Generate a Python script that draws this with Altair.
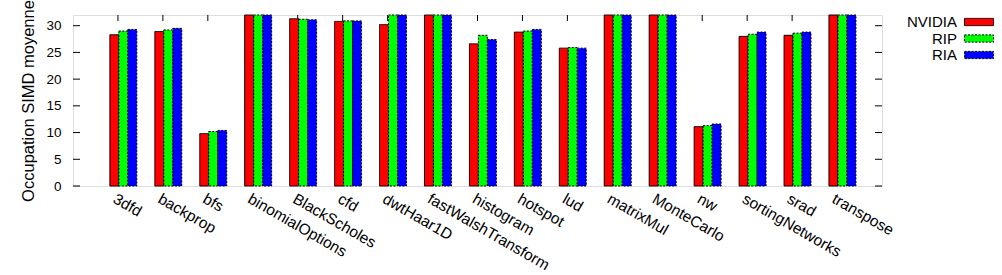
import altair as alt
import pandas as pd

benchmarks = ["3dfd", "backprop", "bfs", "binomialOptions", "BlackScholes", "cfd",
              "dwtHaar1D", "fastWalshTransform", "histogram", "hotspot", "lud",
              "matrixMul", "MonteCarlo", "nw", "sortingNetworks", "srad", "transpose"]
series_names = ["NVIDIA", "RIP", "RIA"]
nvidia = [28.3, 28.9, 9.8, 32, 31.3, 30.8, 30.2, 32, 26.6, 28.8, 25.8, 32, 32, 11.1, 28.0, 28.2, 32]
rip = [29.0, 29.2, 10.2, 32, 31.2, 30.9, 32, 32, 28.2, 29.0, 25.9, 32, 32, 11.3, 28.4, 28.6, 32]
ria = [29.3, 29.5, 10.4, 32, 31.1, 30.9, 32, 32, 27.4, 29.3, 25.8, 32, 32, 11.6, 28.8, 28.8, 32]
y_ticks = [0, 5, 10, 15, 20, 25, 30]
colors = ["#ff0000", "#00ff00", "#0000ff"]

rows = []
for name, vals in zip(series_names, [nvidia, rip, ria]):
    for b, v in zip(benchmarks, vals):
        rows.append({"bench": b, "series": name, "value": v})
df = pd.DataFrame(rows)
bench_df = pd.DataFrame({"bench": benchmarks})
tick_df = pd.DataFrame({"v": y_ticks})
legend_df = pd.DataFrame({"series": series_names})

FONT = "Liberation Sans"
W, H = 809, 171


def yscale():
    return alt.Scale(domain=[0, 32], nice=False, clamp=True)


xscale = alt.Scale(paddingInner=0, paddingOuter=0.5)
color_scale = alt.Scale(domain=series_names, range=colors)
dash_scale = alt.Scale(domain=series_names, range=[[1, 0], [2, 1.5], [2, 1.5]])

xenc = alt.X("bench:N", sort=benchmarks, scale=xscale,
             axis=alt.Axis(title=None, labelAngle=30, labelAlign="left", labelBaseline="top",
                           labelPadding=5, ticks=False, domain=False,
                           labelFontSize=15.5, labelColor="black", labelFont=FONT))

bars = alt.Chart(df).mark_bar(stroke="black", strokeWidth=1).encode(
    x=xenc,
    xOffset=alt.XOffset("series:N", sort=series_names,
                        scale=alt.Scale(paddingInner=0, paddingOuter=1, align=0.8)),
    y=alt.Y("value:Q", scale=yscale(),
            axis=alt.Axis(title="Occupation SIMD moyenne", values=y_ticks, ticks=False,
                          domain=False, grid=False, labelPadding=12, labelFontSize=13.5,
                          labelColor="black", labelFont=FONT, titleFont=FONT,
                          titleFontSize=16.5, titleFontWeight="normal", titleColor="black",
                          titlePadding=9)),
    color=alt.Color("series:N", scale=color_scale, legend=None),
    strokeDash=alt.StrokeDash("series:N", scale=dash_scale, legend=None),
)

top_ticks = alt.Chart(bench_df).mark_rule(color="black", strokeWidth=1).encode(
    x=alt.X("bench:N", sort=benchmarks, scale=xscale),
    y=alt.value(0), y2=alt.value(6))
bot_ticks = alt.Chart(bench_df).mark_rule(color="black", strokeWidth=1).encode(
    x=alt.X("bench:N", sort=benchmarks, scale=xscale),
    y=alt.value(H), y2=alt.value(H - 6))
left_ticks = alt.Chart(tick_df).mark_rule(color="black", strokeWidth=1).encode(
    y=alt.Y("v:Q", scale=yscale(), axis=None), x=alt.value(0), x2=alt.value(7))
right_ticks = alt.Chart(tick_df).mark_rule(color="black", strokeWidth=1).encode(
    y=alt.Y("v:Q", scale=yscale(), axis=None), x=alt.value(W), x2=alt.value(W - 7))

leg_y = alt.Y("series:N", sort=series_names, axis=None,
              scale=alt.Scale(range=[7, 40], padding=0))
leg_text = alt.Chart(legend_df).mark_text(
    align="right", baseline="middle", fontSize=15, font=FONT, color="black"
).encode(y=leg_y, x=alt.value(884), text="series:N")
leg_sym = alt.Chart(legend_df).mark_point(
    shape="M-1,-0.25H1V0.25H-1Z", size=841, filled=True, stroke="black",
    strokeWidth=1, opacity=1
).encode(y=leg_y, x=alt.value(906),
         fill=alt.Fill("series:N", scale=color_scale, legend=None),
         strokeDash=alt.StrokeDash("series:N", scale=dash_scale, legend=None))

chart = alt.layer(top_ticks, bot_ticks, left_ticks, right_ticks, bars,
                  leg_text, leg_sym).resolve_scale(y="independent").properties(
    width=W, height=H,
    autosize=alt.AutoSizeParams(type="none"),
    padding={"left": 73, "top": 15, "right": 120, "bottom": 89},
).configure_view(stroke="black", strokeWidth=1).configure(font=FONT)

chart.save("out.html", embed_options={"renderer": "svg", "actions": False})
